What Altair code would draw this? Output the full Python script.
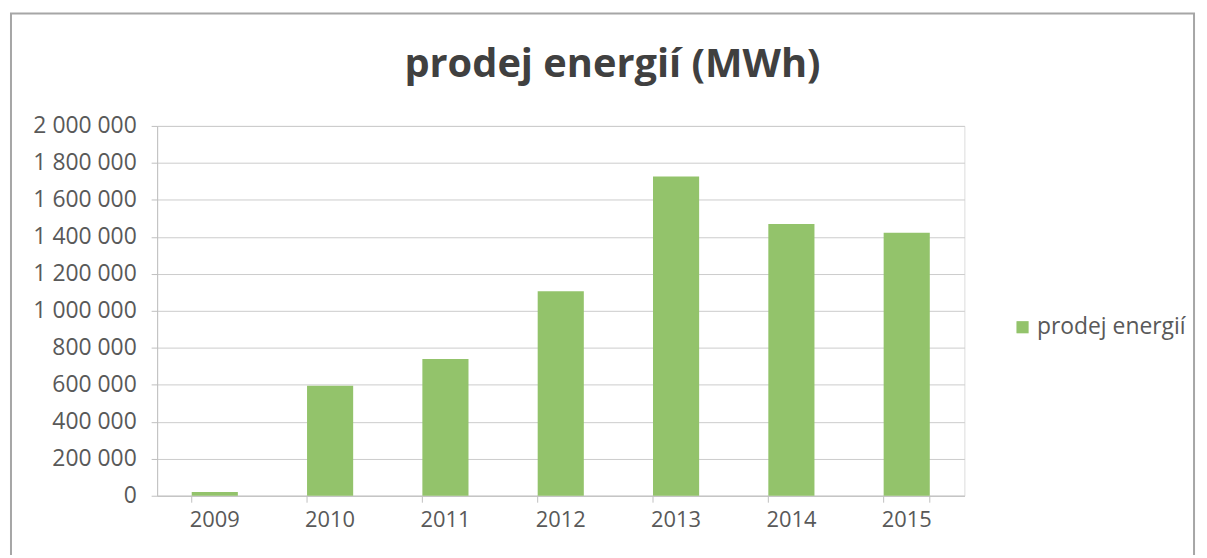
import altair as alt
import pandas as pd

# ---- data ----
years = ["2009", "2010", "2011", "2012", "2013", "2014", "2015"]
sales = [20000, 595000, 740000, 1106000, 1726000, 1470000, 1422000]
series_name = "prodej energií"
y_ticks = [0, 200000, 400000, 600000, 800000, 1000000, 1200000, 1400000,
           1600000, 1800000, 2000000]

df = pd.DataFrame({"year": years, "value": sales, "series": series_name})
edge_df = pd.DataFrame({"year": years})
last_df = pd.DataFrame({"year": years[-1:]})
frame_df = pd.DataFrame({"a": [0]})

W, H = 812, 372
FONT = "Open Sans"
TXT = "#595959"
GREEN = "#93c36b"

x_scale = alt.Scale(domain=years, paddingInner=0.6, paddingOuter=0.3)

frame = alt.Chart(frame_df).mark_rect(
    fill=None, stroke="#a6a6a6", strokeWidth=2
).encode(
    x=alt.value(-147), x2=alt.value(1043),
    y=alt.value(-113), y2=alt.value(600)
)

bars = alt.Chart(df).mark_bar(color=GREEN).encode(
    x=alt.X("year:N", scale=x_scale, sort=years,
            axis=alt.Axis(title=None, ticks=False, labelAngle=0,
                          labelPadding=14, domainColor="#bfbfbf",
                          labelFontSize=22, labelColor=TXT, labelFont=FONT,
                          grid=False)),
    y=alt.Y("value:Q", scale=alt.Scale(domain=[0, 2000000], nice=False),
            axis=alt.Axis(title=None, values=y_ticks, tickSize=6,
                          tickColor="#bfbfbf", domainColor="#bfbfbf",
                          labelPadding=15, labelFontSize=23, labelColor=TXT,
                          labelFont=FONT, gridColor="#cccccc",
                          labelExpr="replace(format(datum.value, ','), regexp(',', 'g'), ' ')")),
    color=alt.Color("series:N",
                    scale=alt.Scale(domain=[series_name], range=[GREEN]),
                    legend=alt.Legend(title=None, orient="none",
                                      legendX=859, legendY=191,
                                      symbolType="square", symbolSize=150,
                                      symbolStrokeWidth=0,
                                      labelFontSize=23, labelColor=TXT,
                                      labelFont=FONT, labelOffset=3)),
)

edge_ticks = alt.Chart(edge_df).mark_rule(color="#bfbfbf").encode(
    x=alt.X("year:N", scale=x_scale, sort=years, bandPosition=0),
    y=alt.value(H), y2=alt.value(H + 7)
)
last_tick = alt.Chart(last_df).mark_rule(color="#bfbfbf").encode(
    x=alt.X("year:N", scale=x_scale, sort=years, bandPosition=1),
    y=alt.value(H), y2=alt.value(H + 7)
)

chart = alt.layer(frame, bars, edge_ticks, last_tick).properties(
    width=W, height=H,
    autosize=alt.AutoSizeParams(type="none"),
    padding={"left": 150, "top": 117, "right": 236, "bottom": 58},
    title=alt.TitleParams("prodej energií (MWh)", font=FONT, fontSize=40,
                          fontWeight="bold", color="#404040", anchor="middle",
                          dx=52, offset=-113, baseline="bottom"),
).configure_view(stroke=None).configure(background="white")

chart.save("out.html", embed_options={"renderer": "svg", "actions": False})
